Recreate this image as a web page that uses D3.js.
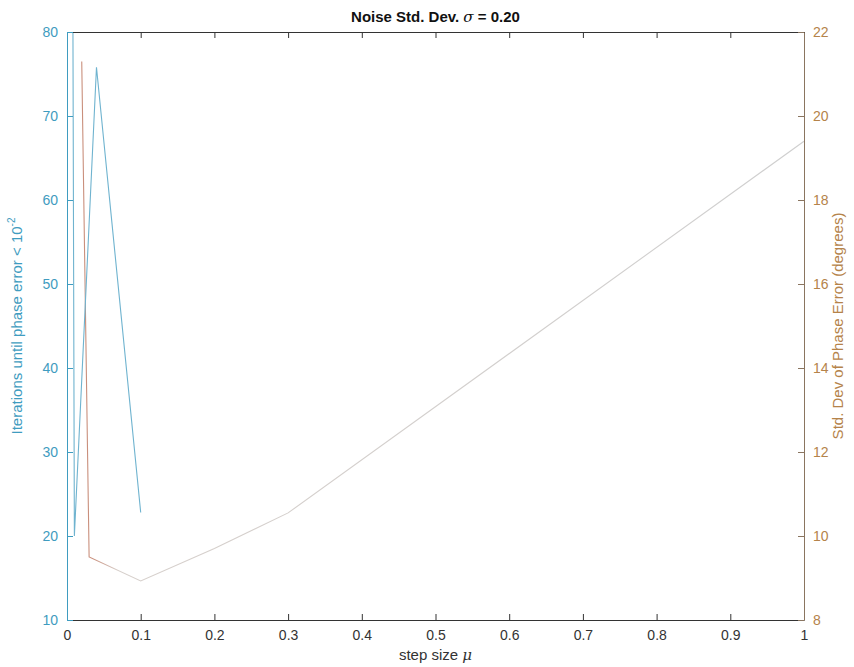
<!DOCTYPE html>
<html>
<head>
<meta charset="utf-8">
<script src="https://cdn.jsdelivr.net/npm/d3@7"></script>
<style>
  body { margin: 0; background: #fff; }
  svg { font-family: "Liberation Sans", Arial, sans-serif; }
</style>
</head>
<body>
<div id="chart"></div>
<script>
const iterMu = [0.001, 0.01, 0.04, 0.1];
const iterations = [300, 20, 75.8, 22.8];

const stdMu = [0.02, 0.03, 0.1, 0.2, 0.3, 1.0];
const stdDev = [21.3, 9.5, 8.93, 9.7, 10.55, 19.4];

const xTicks = [0, 0.1, 0.2, 0.3, 0.4, 0.5, 0.6, 0.7, 0.8, 0.9, 1];
const leftTicks = [10, 20, 30, 40, 50, 60, 70, 80];
const rightTicks = [8, 10, 12, 14, 16, 18, 20, 22];

const blue = "#3f9cc0";
const brown = "#b5834a";

const width = 854, height = 667;
const margin = { top: 32, right: 50, bottom: 47, left: 67 };

const svg = d3.select("#chart").append("svg")
  .attr("width", width)
  .attr("height", height);

const x = d3.scaleLinear().domain([0, 1]).range([margin.left, width - margin.right]);
const yL = d3.scaleLinear().domain([10, 80]).range([height - margin.bottom, margin.top]);
const yR = d3.scaleLinear().domain([8, 22]).range([height - margin.bottom, margin.top]);

const defs = svg.append("defs");
defs.append("clipPath").attr("id", "plotclip")
  .append("rect")
  .attr("x", margin.left).attr("y", margin.top)
  .attr("width", width - margin.left - margin.right)
  .attr("height", height - margin.top - margin.bottom);

// the scan fades the orange line to a pale grey past the spike
const grad = defs.append("linearGradient")
  .attr("id", "fade")
  .attr("gradientUnits", "userSpaceOnUse")
  .attr("x1", x(0)).attr("x2", x(1)).attr("y1", 0).attr("y2", 0);
grad.append("stop").attr("offset", "0%").attr("stop-color", "#c98f7c");
grad.append("stop").attr("offset", "3.5%").attr("stop-color", "#c98f7c");
grad.append("stop").attr("offset", "7%").attr("stop-color", "#d6cfcb");
grad.append("stop").attr("offset", "100%").attr("stop-color", "#cfcfcf");

// lines
const lineL = d3.line().x((d, i) => x(iterMu[i])).y(d => yL(d));
const lineR = d3.line().x((d, i) => x(stdMu[i])).y(d => yR(d));

svg.append("path")
  .datum(stdDev)
  .attr("clip-path", "url(#plotclip)")
  .attr("d", lineR)
  .attr("fill", "none")
  .attr("stroke", "url(#fade)")
  .attr("stroke-width", 1.1);

svg.append("path")
  .datum(iterations)
  .attr("clip-path", "url(#plotclip)")
  .attr("d", lineL)
  .attr("fill", "none")
  .attr("stroke", "#6fb3cf")
  .attr("stroke-width", 1.1);

// axes, MATLAB style: ticks pointing inward
const tickLen = 6;
const xBottom = svg.append("g")
  .attr("transform", `translate(0,${height - margin.bottom})`)
  .call(d3.axisBottom(x).tickValues(xTicks).tickSizeInner(-tickLen).tickSizeOuter(0)
    .tickPadding(10).tickFormat(d3.format("")));
const xTop = svg.append("g")
  .attr("transform", `translate(0,${margin.top})`)
  .call(d3.axisTop(x).tickValues(xTicks).tickSizeInner(-tickLen).tickSizeOuter(0).tickFormat(""));
[xBottom, xTop].forEach(g => {
  g.select(".domain").attr("stroke", "#333");
  g.selectAll(".tick line").attr("stroke", "#333");
});
xBottom.selectAll("text").attr("fill", "#333").style("font-size", "14px");

const left = svg.append("g")
  .attr("transform", `translate(${margin.left},0)`)
  .call(d3.axisLeft(yL).tickValues(leftTicks).tickSizeInner(-tickLen).tickSizeOuter(0).tickPadding(9));
left.select(".domain").attr("stroke", blue);
left.selectAll(".tick line").attr("stroke", blue);
left.selectAll("text").attr("fill", blue).style("font-size", "14px");

const right = svg.append("g")
  .attr("transform", `translate(${width - margin.right},0)`)
  .call(d3.axisRight(yR).tickValues(rightTicks).tickSizeInner(-tickLen).tickSizeOuter(0).tickPadding(9));
right.select(".domain").attr("stroke", "#8a7560");
right.selectAll(".tick line").attr("stroke", "#8a7560");
right.selectAll("text").attr("fill", brown).style("font-size", "14px");

// title
const title = svg.append("text")
  .attr("x", (margin.left + width - margin.right) / 2)
  .attr("y", 22)
  .attr("text-anchor", "middle")
  .style("font-size", "15px")
  .style("font-weight", "bold")
  .attr("fill", "#111");
title.append("tspan").text("Noise Std. Dev. ");
title.append("tspan").text("σ").style("font-style", "italic").style("font-weight", "normal")
  .style("font-family", "'DejaVu Serif', serif");
title.append("tspan").text(" = 0.20");

// x label
const xl = svg.append("text")
  .attr("x", (margin.left + width - margin.right) / 2)
  .attr("y", 660)
  .attr("text-anchor", "middle")
  .style("font-size", "15px")
  .attr("fill", "#333");
xl.append("tspan").text("step size ");
xl.append("tspan").text("μ").style("font-style", "italic").style("font-family", "'DejaVu Serif', serif");

// left y label
const yl = svg.append("text")
  .attr("transform", `translate(22,${(margin.top + height - margin.bottom) / 2}) rotate(-90)`)
  .attr("text-anchor", "middle")
  .style("font-size", "15px")
  .attr("fill", blue);
yl.append("tspan").text("Iterations until phase error < 10");
yl.append("tspan").text("-2").attr("dy", -7).style("font-size", "10px");

// right y label
svg.append("text")
  .attr("transform", `translate(843,${(margin.top + height - margin.bottom) / 2}) rotate(-90)`)
  .attr("text-anchor", "middle")
  .style("font-size", "15px")
  .attr("fill", brown)
  .text("Std. Dev of Phase Error (degrees)");
</script>
</body>
</html>
